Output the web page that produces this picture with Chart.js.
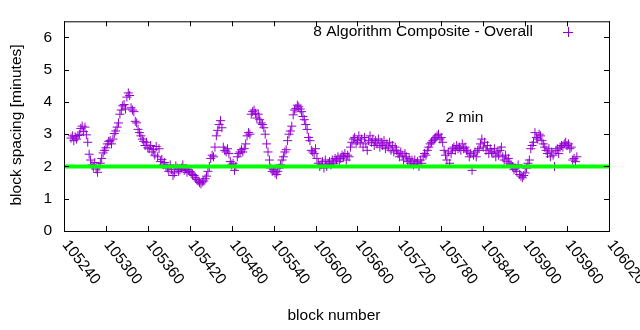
<!DOCTYPE html>
<html>
<head>
<meta charset="utf-8">
<script src="https://cdn.jsdelivr.net/npm/chart.js@4"></script>
<style>
  body { margin: 0; background: #fff; }
  canvas { display: block; }
</style>
</head>
<body>
<canvas id="spacingChart" width="640" height="330"></canvas>
<script>
// block numbers (x) and the block spacing (y, minutes)
const blockNumbers = [
  105250, 105252, 105254, 105256, 105258, 105260, 105262, 105264, 105266, 105268,
  105270, 105272, 105274, 105276, 105278, 105280, 105282, 105284, 105286, 105288,
  105290, 105292, 105294, 105296, 105298, 105300, 105302, 105304, 105306, 105308,
  105310, 105312, 105314, 105316, 105318, 105320, 105322, 105324, 105326, 105328,
  105330, 105332, 105334, 105336, 105338, 105340, 105342, 105344, 105346, 105348,
  105350, 105352, 105354, 105356, 105358, 105360, 105362, 105364, 105366, 105368,
  105370, 105372, 105374, 105376, 105378, 105380, 105382, 105384, 105386, 105388,
  105390, 105392, 105394, 105396, 105398, 105400, 105402, 105404, 105406, 105408,
  105410, 105412, 105414, 105416, 105418, 105420, 105422, 105424, 105426, 105428,
  105430, 105432, 105434, 105436, 105438, 105440, 105442, 105444, 105446, 105448,
  105450, 105452, 105454, 105456, 105458, 105460, 105462, 105464, 105466, 105468,
  105470, 105472, 105474, 105476, 105478, 105480, 105482, 105484, 105486, 105488,
  105490, 105492, 105494, 105496, 105498, 105500, 105502, 105504, 105506, 105508,
  105510, 105512, 105514, 105516, 105518, 105520, 105522, 105524, 105526, 105528,
  105530, 105532, 105534, 105536, 105538, 105540, 105542, 105544, 105546, 105548,
  105550, 105552, 105554, 105556, 105558, 105560, 105562, 105564, 105566, 105568,
  105570, 105572, 105574, 105576, 105578, 105580, 105582, 105584, 105586, 105588,
  105590, 105592, 105594, 105596, 105598, 105600, 105602, 105604, 105606, 105608,
  105610, 105612, 105614, 105616, 105618, 105620, 105622, 105624, 105626, 105628,
  105630, 105632, 105634, 105636, 105638, 105640, 105642, 105644, 105646, 105648,
  105650, 105652, 105654, 105656, 105658, 105660, 105662, 105664, 105666, 105668,
  105670, 105672, 105674, 105676, 105678, 105680, 105682, 105684, 105686, 105688,
  105690, 105692, 105694, 105696, 105698, 105700, 105702, 105704, 105706, 105708,
  105710, 105712, 105714, 105716, 105718, 105720, 105722, 105724, 105726, 105728,
  105730, 105732, 105734, 105736, 105738, 105740, 105742, 105744, 105746, 105748,
  105750, 105752, 105754, 105756, 105758, 105760, 105762, 105764, 105766, 105768,
  105770, 105772, 105774, 105776, 105778, 105780, 105782, 105784, 105786, 105788,
  105790, 105792, 105794, 105796, 105798, 105800, 105802, 105804, 105806, 105808,
  105810, 105812, 105814, 105816, 105818, 105820, 105822, 105824, 105826, 105828,
  105830, 105832, 105834, 105836, 105838, 105840, 105842, 105844, 105846, 105848,
  105850, 105852, 105854, 105856, 105858, 105860, 105862, 105864, 105866, 105868,
  105870, 105872, 105874, 105876, 105878, 105880, 105882, 105884, 105886, 105888,
  105890, 105892, 105894, 105896, 105898, 105900, 105902, 105904, 105906, 105908,
  105910, 105912, 105914, 105916, 105918, 105920, 105922, 105924, 105926, 105928,
  105930, 105932, 105934, 105936, 105938, 105940, 105942, 105944, 105946, 105948,
  105950, 105952, 105954, 105956, 105958, 105960, 105962, 105964, 105966, 105968,
  105970, 105972, 105974
];

const spacingMinutes = [
  2.88, 2.95, 2.80, 2.92, 2.85, 2.96, 3.00, 3.18, 3.25, 3.08,
  3.22, 2.98, 2.75, 2.38, 2.20, 2.05, 1.98, 2.12, 1.92, 1.82,
  2.00, 2.10, 2.25, 2.42, 2.50, 2.58, 2.70, 2.78, 2.80, 2.70,
  2.85, 3.02, 3.10, 3.22, 3.35, 3.62, 3.75, 3.88, 3.92, 3.78,
  4.15, 4.28, 4.20, 3.82, 3.75, 3.70, 3.40, 3.35, 3.15, 3.05,
  2.95, 2.85, 2.78, 2.65, 2.75, 2.58, 2.55, 2.65, 2.45, 2.52,
  2.35, 2.62, 2.30, 2.55, 2.15, 2.22, 2.05, 2.12, 2.00, 1.95,
  1.85, 2.05, 1.90, 1.72, 1.80, 2.02, 1.95, 1.85, 1.90, 1.95,
  2.05, 1.88, 1.92, 1.82, 1.90, 1.85, 1.80, 1.75, 1.72, 1.65,
  1.60, 1.55, 1.50, 1.46, 1.52, 1.55, 1.62, 1.70, 1.85, 2.00,
  2.25, 2.35, 2.30, 2.60, 2.95, 3.12, 3.30, 3.42, 3.20, 2.60,
  2.50, 2.45, 2.55, 2.40, 2.15, 2.05, 2.10, 1.88, 2.00, 2.30,
  2.40, 2.45, 2.52, 2.45, 2.55, 2.70, 2.95, 3.05, 3.00, 3.62,
  3.70, 3.75, 3.65, 3.50, 3.62, 3.45, 3.35, 3.30, 3.20, 3.00,
  2.70, 2.45, 2.20, 1.95, 1.85, 1.90, 1.80, 1.75, 1.85, 1.95,
  2.05, 2.20, 2.30, 2.45, 2.52, 2.80, 3.00, 3.10, 3.25, 3.60,
  3.75, 3.80, 3.90, 3.85, 3.78, 3.70, 3.55, 3.45, 3.30, 3.15,
  2.90, 2.80, 2.50, 2.45, 2.40, 2.55, 2.25, 2.10, 2.00, 2.05,
  2.15, 1.95, 2.20, 2.00, 2.10, 2.15, 2.05, 2.20, 2.10, 2.25,
  2.20, 2.30, 2.15, 2.25, 2.35, 2.30, 2.40, 2.20, 2.35, 2.30,
  2.60, 2.75, 2.85, 2.90, 2.70, 2.80, 2.95, 2.75, 2.85, 2.60,
  2.90, 2.70, 2.50, 2.80, 2.95, 2.75, 2.85, 2.65, 2.80, 2.70,
  2.85, 2.60, 2.75, 2.65, 2.80, 2.55, 2.70, 2.60, 2.75, 2.50,
  2.65, 2.45, 2.60, 2.50, 2.40, 2.30, 2.45, 2.35, 2.20, 2.40,
  2.30, 2.15, 2.25, 2.10, 2.20, 2.05, 2.20, 2.10, 2.15, 2.00,
  2.20, 2.10, 2.30, 2.40, 2.35, 2.50, 2.60, 2.70, 2.75, 2.80,
  2.85, 2.90, 2.95, 3.00, 2.85, 2.90, 2.75, 2.50, 2.35, 2.20,
  2.45, 2.10, 2.40, 2.55, 2.60, 2.50, 2.65, 2.55, 2.60, 2.50,
  2.70, 2.55, 2.60, 2.50, 2.45, 2.30, 2.40, 1.88, 2.35, 2.45,
  2.30, 2.50, 2.55, 2.70, 2.85, 2.60, 2.75, 2.50, 2.65, 2.40,
  2.55, 2.45, 2.40, 2.55, 2.30, 2.45, 2.35, 2.50, 2.60, 2.30,
  2.20, 2.35, 2.15, 2.25, 2.10, 2.05, 2.00, 1.90, 1.95, 1.85,
  2.05, 1.75, 1.70, 1.65, 1.72, 1.80, 1.95, 2.10, 2.20, 2.55,
  2.65, 2.75, 3.05, 2.90, 2.85, 3.00, 2.95, 2.80, 2.70, 2.60,
  2.50, 2.40, 2.55, 2.30, 2.45, 2.35, 2.00, 2.50, 2.55, 2.40,
  2.60, 2.65, 2.60, 2.70, 2.75, 2.65, 2.70, 2.55, 2.60, 2.20,
  2.25, 2.15, 2.30
];

// the 2 minute target line
const targetBlocks = [105240, 106020];
const targetMinutes = [2, 2];

const xTickValues = [105240, 105300, 105360, 105420, 105480, 105540, 105600,
                     105660, 105720, 105780, 105840, 105900, 105960, 106020];
const yTickValues = [0, 1, 2, 3, 4, 5, 6];

const seriesLabel = "8 Algorithm Composite - Overall";
const targetLabel = "2 min";
const targetLabelAt = [105786, 3.5];

const FONT_FAMILY = "'Liberation Sans', Arial, sans-serif";
const FONT = "15.5px " + FONT_FAMILY;
const PURPLE = "#9400d3";

// gnuplot-like frame: border, inward ticks on all four sides, rotated x labels, key, titles
const gnuplotFrame = {
  id: "gnuplotFrame",
  afterDraw(chart) {
    const { ctx, chartArea: a, scales } = chart;
    const x = scales.x, y = scales.y;
    ctx.save();
    ctx.strokeStyle = "#000";
    ctx.lineWidth = 1;
    ctx.beginPath();
    x.ticks.forEach(t => {
      const px = Math.round(x.getPixelForValue(t.value)) + 0.5;
      ctx.moveTo(px, a.bottom); ctx.lineTo(px, a.bottom - 5);
      ctx.moveTo(px, a.top); ctx.lineTo(px, a.top + 5);
    });
    y.ticks.forEach(t => {
      const py = Math.round(y.getPixelForValue(t.value)) + 0.5;
      ctx.moveTo(a.left, py); ctx.lineTo(a.left + 5, py);
      ctx.moveTo(a.right, py); ctx.lineTo(a.right - 5, py);
    });
    ctx.stroke();
    ctx.strokeRect(a.left + 0.5, a.top + 0.5, a.right - a.left, a.bottom - a.top);

    ctx.fillStyle = "#000";
    ctx.font = FONT;
    // rotated x tick labels
    x.ticks.forEach(t => {
      const px = x.getPixelForValue(t.value);
      ctx.save();
      ctx.translate(px + 1, a.bottom + 11);
      ctx.rotate(52 * Math.PI / 180);
      ctx.textAlign = "left";
      ctx.textBaseline = "middle";
      ctx.fillText(String(t.value), 0, 0);
      ctx.restore();
    });

    // axis titles
    ctx.textAlign = "center";
    ctx.textBaseline = "middle";
    ctx.fillText("block number", 334, 316);
    ctx.save();
    ctx.translate(17, 125);
    ctx.rotate(-Math.PI / 2);
    ctx.fillText("block spacing [minutes]", 0, 0);
    ctx.restore();

    // 2 min label
    ctx.textAlign = "left";
    ctx.fillText(targetLabel, x.getPixelForValue(targetLabelAt[0]), y.getPixelForValue(targetLabelAt[1]));

    // key
    ctx.textAlign = "right";
    ctx.fillText(seriesLabel, 533, 32);
    ctx.strokeStyle = PURPLE;
    ctx.beginPath();
    ctx.moveTo(563, 32.5); ctx.lineTo(573, 32.5);
    ctx.moveTo(568.5, 27); ctx.lineTo(568.5, 37);
    ctx.stroke();
    ctx.restore();
  }
};

new Chart(document.getElementById("spacingChart"), {
  data: {
    datasets: [
      {
        type: "line",
        label: targetLabel,
        data: targetBlocks.map((b, i) => ({ x: b, y: targetMinutes[i] })),
        borderColor: "#00ff00",
        borderWidth: 4,
        pointRadius: 0,
        order: 0
      },
      {
        type: "scatter",
        label: seriesLabel,
        data: blockNumbers.map((b, i) => ({ x: b, y: spacingMinutes[i] })),
        pointStyle: "cross",
        pointRadius: 4.5,
        borderWidth: 1,
        borderColor: PURPLE,
        backgroundColor: PURPLE,
        order: 1
      }
    ]
  },
  options: {
    responsive: false,
    animation: false,
    layout: { padding: { left: 0, right: 31, top: 19, bottom: 0 } },
    plugins: { legend: { display: false }, tooltip: { enabled: false } },
    scales: {
      x: {
        type: "linear",
        min: 105240,
        max: 106020,
        ticks: { display: false },
        grid: { display: false },
        border: { display: false },
        afterBuildTicks(scale) {
          scale.ticks = xTickValues.map(v => ({ value: v }));
        },
        afterFit(scale) { scale.height = 99; }
      },
      y: {
        type: "linear",
        min: 0,
        max: 6.5,
        ticks: {
          padding: 12,
          color: "#000",
          font: { family: FONT_FAMILY, size: 15.5 }
        },
        grid: { display: false, drawTicks: false },
        border: { display: false },
        afterBuildTicks(scale) {
          scale.ticks = yTickValues.map(v => ({ value: v }));
        },
        afterFit(scale) { scale.width = 64; }
      }
    }
  },
  plugins: [gnuplotFrame]
});
</script>
</body>
</html>
